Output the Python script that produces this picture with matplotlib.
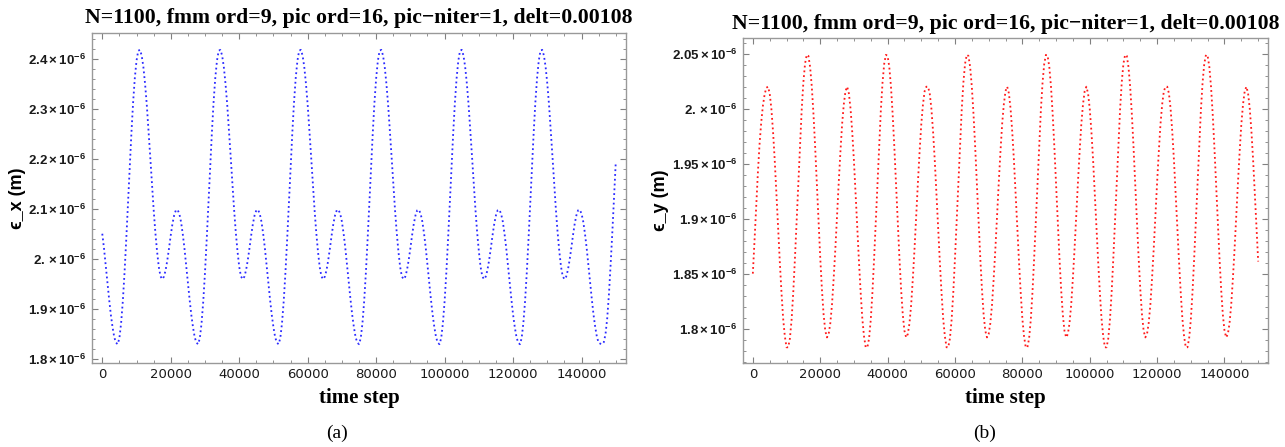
import numpy as np
import matplotlib
matplotlib.use("Agg")
import matplotlib.pyplot as plt
from matplotlib.ticker import MultipleLocator

# Mathematica-like look: bold sans tick labels, bold serif titles
plt.rcParams['mathtext.fontset'] = 'custom'
plt.rcParams['mathtext.rm'] = 'Liberation Sans:bold'
plt.rcParams['mathtext.bf'] = 'Liberation Sans:bold'
plt.rcParams['mathtext.it'] = 'Liberation Sans:bold'

title = "N=1100, fmm ord=9, pic ord=16, pic\u2212niter=1, delt=0.00108"
step = 500  # time steps between listed samples

# epsilon_x (units of 1e-6 m)
eps_x = [
    2.051, 2.022, 1.989, 1.954, 1.920, 1.889, 1.864, 1.844, 1.833,
    # cycle 1
    1.830, 1.842, 1.872, 1.916, 1.973, 2.039, 2.110, 2.183, 2.251, 2.313, 2.362, 2.397, 2.417,
    2.419, 2.408, 2.385, 2.351, 2.309, 2.259, 2.206, 2.152, 2.100, 2.054, 2.016, 1.985, 1.966, 1.960,
    1.965, 1.978, 1.998, 2.022, 2.048, 2.071, 2.088, 2.098,
    2.099, 2.091, 2.075, 2.051, 2.022, 1.989, 1.954, 1.920, 1.889, 1.864, 1.844, 1.833,
    # cycle 2
    1.830, 1.842, 1.872, 1.916, 1.973, 2.039, 2.110, 2.183, 2.251, 2.313, 2.362, 2.397, 2.417,
    2.419, 2.408, 2.385, 2.351, 2.309, 2.259, 2.206, 2.152, 2.100, 2.054, 2.016, 1.985, 1.966, 1.960,
    1.965, 1.978, 1.998, 2.022, 2.048, 2.071, 2.088, 2.098,
    2.099, 2.091, 2.075, 2.051, 2.022, 1.989, 1.954, 1.920, 1.889, 1.864, 1.844, 1.833,
    # cycle 3
    1.830, 1.842, 1.872, 1.916, 1.973, 2.039, 2.110, 2.183, 2.251, 2.313, 2.362, 2.397, 2.417,
    2.419, 2.408, 2.385, 2.351, 2.309, 2.259, 2.206, 2.152, 2.100, 2.054, 2.016, 1.985, 1.966, 1.960,
    1.965, 1.978, 1.998, 2.022, 2.048, 2.071, 2.088, 2.098,
    2.099, 2.091, 2.075, 2.051, 2.022, 1.989, 1.954, 1.920, 1.889, 1.864, 1.844, 1.833,
    # cycle 4
    1.830, 1.842, 1.872, 1.916, 1.973, 2.039, 2.110, 2.183, 2.251, 2.313, 2.362, 2.397, 2.417,
    2.419, 2.408, 2.385, 2.351, 2.309, 2.259, 2.206, 2.152, 2.100, 2.054, 2.016, 1.985, 1.966, 1.960,
    1.965, 1.978, 1.998, 2.022, 2.048, 2.071, 2.088, 2.098,
    2.099, 2.091, 2.075, 2.051, 2.022, 1.989, 1.954, 1.920, 1.889, 1.864, 1.844, 1.833,
    # cycle 5
    1.830, 1.842, 1.872, 1.916, 1.973, 2.039, 2.110, 2.183, 2.251, 2.313, 2.362, 2.397, 2.417,
    2.419, 2.408, 2.385, 2.351, 2.309, 2.259, 2.206, 2.152, 2.100, 2.054, 2.016, 1.985, 1.966, 1.960,
    1.965, 1.978, 1.998, 2.022, 2.048, 2.071, 2.088, 2.098,
    2.099, 2.091, 2.075, 2.051, 2.022, 1.989, 1.954, 1.920, 1.889, 1.864, 1.844, 1.833,
    # cycle 6
    1.830, 1.842, 1.872, 1.916, 1.973, 2.039, 2.110, 2.183, 2.251, 2.313, 2.362, 2.397, 2.417,
    2.419, 2.408, 2.385, 2.351, 2.309, 2.259, 2.206, 2.152, 2.100, 2.054, 2.016, 1.985, 1.966, 1.960,
    1.965, 1.978, 1.998, 2.022, 2.048, 2.071, 2.088, 2.098,
    2.099, 2.091, 2.075, 2.051, 2.022, 1.989, 1.954, 1.920, 1.889, 1.864, 1.844, 1.833,
    # tail
    1.831, 1.830, 1.834, 1.850, 1.882, 1.930, 1.990, 2.055, 2.125, 2.195,
]

# epsilon_y (units of 1e-6 m)
eps_y = [
    1.850, 1.880, 1.912, 1.942, 1.968, 1.988, 2.003, 2.013, 2.019,
    # cycle 1
    2.020, 2.014, 2.000, 1.979, 1.953, 1.923, 1.892, 1.861, 1.833, 1.809, 1.793, 1.783,
    1.783, 1.791, 1.808, 1.833, 1.864, 1.898, 1.934, 1.968, 1.999, 2.024, 2.041, 2.049,
    2.048, 2.038, 2.020, 1.995, 1.965, 1.931, 1.897, 1.865, 1.836, 1.813, 1.798, 1.792,
    1.795, 1.805, 1.822, 1.846, 1.873, 1.903, 1.933, 1.961, 1.986, 2.004, 2.016,
    # cycle 2
    2.020, 2.014, 2.000, 1.979, 1.953, 1.923, 1.892, 1.861, 1.833, 1.809, 1.793, 1.783,
    1.783, 1.791, 1.808, 1.833, 1.864, 1.898, 1.934, 1.968, 1.999, 2.024, 2.041, 2.049,
    2.048, 2.038, 2.020, 1.995, 1.965, 1.931, 1.897, 1.865, 1.836, 1.813, 1.798, 1.792,
    1.795, 1.805, 1.822, 1.846, 1.873, 1.903, 1.933, 1.961, 1.986, 2.004, 2.016, 2.020,
    # cycle 3
    2.020, 2.014, 2.000, 1.979, 1.953, 1.923, 1.892, 1.861, 1.833, 1.809, 1.793, 1.783,
    1.783, 1.791, 1.808, 1.833, 1.864, 1.898, 1.934, 1.968, 1.999, 2.024, 2.041, 2.049,
    2.048, 2.038, 2.020, 1.995, 1.965, 1.931, 1.897, 1.865, 1.836, 1.813, 1.798, 1.792,
    1.795, 1.805, 1.822, 1.846, 1.873, 1.903, 1.933, 1.961, 1.986, 2.004, 2.016,
    # cycle 4
    2.020, 2.014, 2.000, 1.979, 1.953, 1.923, 1.892, 1.861, 1.833, 1.809, 1.793, 1.783,
    1.783, 1.791, 1.808, 1.833, 1.864, 1.898, 1.934, 1.968, 1.999, 2.024, 2.041, 2.049,
    2.048, 2.038, 2.020, 1.995, 1.965, 1.931, 1.897, 1.865, 1.836, 1.813, 1.798, 1.792,
    1.795, 1.805, 1.822, 1.846, 1.873, 1.903, 1.933, 1.961, 1.986, 2.004, 2.016,
    # cycle 5
    2.020, 2.014, 2.000, 1.979, 1.953, 1.923, 1.892, 1.861, 1.833, 1.809, 1.793, 1.783,
    1.783, 1.791, 1.808, 1.833, 1.864, 1.898, 1.934, 1.968, 1.999, 2.024, 2.041, 2.049,
    2.048, 2.038, 2.020, 1.995, 1.965, 1.931, 1.897, 1.865, 1.836, 1.813, 1.798, 1.792,
    1.795, 1.805, 1.822, 1.846, 1.873, 1.903, 1.933, 1.961, 1.986, 2.004, 2.016, 2.020,
    # cycle 6
    2.020, 2.014, 2.000, 1.979, 1.953, 1.923, 1.892, 1.861, 1.833, 1.809, 1.793, 1.783,
    1.783, 1.791, 1.808, 1.833, 1.864, 1.898, 1.934, 1.968, 1.999, 2.024, 2.041, 2.049,
    2.048, 2.038, 2.020, 1.995, 1.965, 1.931, 1.897, 1.865, 1.836, 1.813, 1.798, 1.792,
    1.795, 1.805, 1.822, 1.846, 1.873, 1.903, 1.933, 1.961, 1.986, 2.004, 2.016,
    # tail
    2.020, 2.014, 2.000, 1.979, 1.953, 1.923, 1.892, 1.861,
]

xticks = [0, 20000, 40000, 60000, 80000, 100000, 120000, 140000]
xtick_labels = ["0", "20000", "40000", "60000", "80000", "100000", "120000", "140000"]

yticks_x = [1.8, 1.9, 2.0, 2.1, 2.2, 2.3, 2.4]
ylabels_x = ["1.8", "1.9", "2.", "2.1", "2.2", "2.3", "2.4"]
yticks_y = [1.8, 1.85, 1.9, 1.95, 2.0, 2.05]
ylabels_y = ["1.8", "1.85", "1.9", "1.95", "2.", "2.05"]

panels = [
    dict(data=eps_x, color="#2a2aff", ylabel="\u03f5_x (m)", yticks=yticks_x, ylabels=ylabels_x,
         ylim=(1.793, 2.453), yminor=0.02, rect=[0.0716, 0.1886, 0.4156, 0.738],
         cap="(a)", capx=0.262),
    dict(data=eps_y, color="#ff1a1a", ylabel="\u03f5_y (m)", yticks=yticks_y, ylabels=ylabels_y,
         ylim=(1.769, 2.064), yminor=0.01, rect=[0.578, 0.1886, 0.409, 0.7257],
         cap="(b)", capx=0.766),
]

fig = plt.figure(figsize=(12.85, 4.47), dpi=100)

for p in panels:
    ax = fig.add_axes(p["rect"])
    vals = np.array(p["data"])
    t = np.arange(len(vals)) * step
    ax.plot(t, vals, linestyle=":", linewidth=1.3, color=p["color"])

    ax.set_xlim(-3000, 153000)
    ax.set_ylim(*p["ylim"])
    ax.set_xticks(xticks, labels=xtick_labels)
    ax.set_yticks(p["yticks"], labels=[r"$%s\times10^{-6}$" % s for s in p["ylabels"]])
    ax.xaxis.set_minor_locator(MultipleLocator(5000))
    ax.yaxis.set_minor_locator(MultipleLocator(p["yminor"]))
    ax.tick_params(which="both", direction="in", top=True, right=True, color="#808080",
                   labelcolor="#1a1a1a", labelsize=9.5, pad=4)
    ax.tick_params(which="major", length=4, width=0.8)
    ax.tick_params(which="minor", length=2, width=0.6)
    for s in ax.spines.values():
        s.set_color("#999999")
        s.set_linewidth(1.0)

    ax.set_title(title, family="Liberation Serif", fontweight="bold", fontsize=15.7, pad=7)
    ax.set_xlabel("time step", family="Liberation Serif", fontweight="bold", fontsize=15, labelpad=5)
    ax.set_ylabel(p["ylabel"], family=["Liberation Sans", "DejaVu Sans"], fontweight="bold",
                  fontsize=13, labelpad=2)
    fig.text(p["capx"], 0.02, p["cap"], family="Liberation Serif", fontsize=14, ha="center")

fig.savefig("out.png", dpi=100)
